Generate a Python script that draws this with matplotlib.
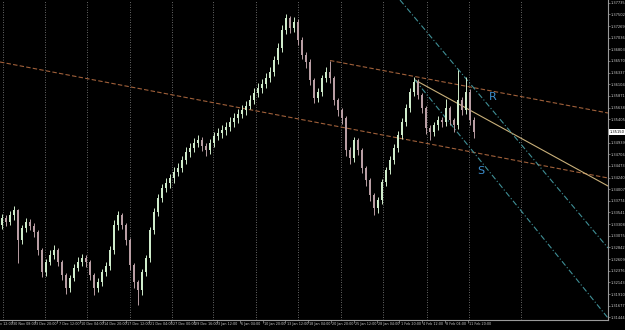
import numpy as np
import matplotlib
matplotlib.use("Agg")
import matplotlib.pyplot as plt
import matplotlib.transforms as transforms

# H4 candles, open = previous close
first_open = 1.3330
closes = [
    1.3343, 1.3335, 1.3349, 1.3359, 1.3299, 1.3323, 1.3335, 1.3327, 1.3315, 1.3279,
    1.3235, 1.3255, 1.3269, 1.3279, 1.3255, 1.3229, 1.3203, 1.3223, 1.3243, 1.3255,
    1.3263, 1.3255, 1.3229, 1.3203, 1.3215, 1.3235, 1.3247, 1.3279, 1.3329, 1.3349,
    1.3329, 1.3299, 1.3249, 1.3215, 1.3199, 1.3235, 1.3263, 1.3319, 1.3355, 1.3383,
    1.3403, 1.3413, 1.3423, 1.3435, 1.3443, 1.3459, 1.3475, 1.3483, 1.3493, 1.3499,
    1.3487, 1.3479, 1.3493, 1.3507, 1.3513, 1.3519, 1.3525, 1.3535, 1.3543, 1.3551,
    1.3559, 1.3567, 1.3579, 1.3593, 1.3603, 1.3611, 1.3623, 1.3635, 1.3659, 1.3683,
    1.3719, 1.3743, 1.3723, 1.3735, 1.3699, 1.3669, 1.3655, 1.3619, 1.3583, 1.3595,
    1.3623, 1.3635, 1.3623, 1.3579, 1.3559, 1.3543, 1.3479, 1.3463, 1.3499, 1.3479,
    1.3443, 1.3419, 1.3389, 1.3363, 1.3379, 1.3415, 1.3439, 1.3459, 1.3483, 1.3509,
    1.3535, 1.3563, 1.3595, 1.3615, 1.3589, 1.3563, 1.3523, 1.3515, 1.3529, 1.3539,
    1.3535, 1.3563, 1.3539, 1.3529, 1.3579, 1.3559, 1.3595, 1.3539, 1.3515,
]
highs = [
    1.3352, 1.3350, 1.3358, 1.3368, 1.3362, 1.3330, 1.3344, 1.3341, 1.3333, 1.3320,
    1.3284, 1.3262, 1.3280, 1.3290, 1.3284, 1.3260, 1.3234, 1.3230, 1.3252, 1.3266,
    1.3272, 1.3270, 1.3260, 1.3234, 1.3224, 1.3242, 1.3256, 1.3288, 1.3340, 1.3358,
    1.3354, 1.3334, 1.3304, 1.3254, 1.3220, 1.3242, 1.3270, 1.3326, 1.3364, 1.3392,
    1.3412, 1.3424, 1.3432, 1.3446, 1.3454, 1.3468, 1.3486, 1.3494, 1.3504, 1.3510,
    1.3506, 1.3494, 1.3502, 1.3516, 1.3524, 1.3530, 1.3536, 1.3546, 1.3554, 1.3562,
    1.3570, 1.3578, 1.3590, 1.3604, 1.3614, 1.3622, 1.3634, 1.3646, 1.3668, 1.3694,
    1.3730, 1.3751, 1.3748, 1.3745, 1.3740, 1.3704, 1.3676, 1.3660, 1.3624, 1.3604,
    1.3630, 1.3646, 1.3658, 1.3628, 1.3584, 1.3564, 1.3548, 1.3486, 1.3506, 1.3504,
    1.3484, 1.3448, 1.3424, 1.3394, 1.3386, 1.3422, 1.3446, 1.3468, 1.3492, 1.3518,
    1.3544, 1.3572, 1.3604, 1.3625, 1.3620, 1.3594, 1.3568, 1.3530, 1.3536, 1.3548,
    1.3546, 1.3580, 1.3568, 1.3544, 1.3639, 1.3586, 1.3625, 1.3600, 1.3546,
]
lows = [
    1.3322, 1.3328, 1.3330, 1.3340, 1.3253, 1.3292, 1.3316, 1.3320, 1.3306, 1.3270,
    1.3226, 1.3228, 1.3250, 1.3262, 1.3248, 1.3220, 1.3192, 1.3196, 1.3218, 1.3238,
    1.3248, 1.3246, 1.3220, 1.3190, 1.3195, 1.3208, 1.3228, 1.3240, 1.3272, 1.3320,
    1.3322, 1.3290, 1.3240, 1.3204, 1.3169, 1.3190, 1.3228, 1.3256, 1.3312, 1.3348,
    1.3376, 1.3396, 1.3404, 1.3414, 1.3428, 1.3436, 1.3452, 1.3466, 1.3476, 1.3486,
    1.3478, 1.3468, 1.3472, 1.3486, 1.3500, 1.3504, 1.3510, 1.3518, 1.3526, 1.3534,
    1.3544, 1.3550, 1.3560, 1.3572, 1.3586, 1.3594, 1.3604, 1.3616, 1.3628, 1.3652,
    1.3676, 1.3712, 1.3714, 1.3716, 1.3690, 1.3660, 1.3644, 1.3610, 1.3574, 1.3576,
    1.3588, 1.3616, 1.3614, 1.3570, 1.3548, 1.3532, 1.3468, 1.3452, 1.3456, 1.3470,
    1.3434, 1.3408, 1.3378, 1.3350, 1.3354, 1.3372, 1.3408, 1.3432, 1.3452, 1.3476,
    1.3502, 1.3528, 1.3556, 1.3588, 1.3580, 1.3554, 1.3512, 1.3500, 1.3508, 1.3520,
    1.3526, 1.3528, 1.3530, 1.3516, 1.3522, 1.3550, 1.3552, 1.3530, 1.3504,
]

time_labels = [
    "27 Nov 12:00", "30 Nov 08:00", "3 Dec 20:00", "7 Dec 12:00", "10 Dec 04:00",
    "14 Dec 20:00", "17 Dec 12:00", "21 Dec 04:00", "27 Dec 00:00", "29 Dec 16:00",
    "3 Jan 12:00", "6 Jan 04:00", "10 Jan 20:00", "13 Jan 12:00", "18 Jan 04:00",
    "20 Jan 20:00", "25 Jan 12:00", "28 Jan 04:00", "1 Feb 20:00", "4 Feb 12:00",
    "8 Feb 04:00", "11 Feb 20:00",
]
# bar index where each time label sits (5.7 bars apart)
time_label_bars = [-3.25 + 5.7 * k for k in range(len(time_labels))]

price_ticks = [round(1.37735 - 0.00233 * k, 5) for k in range(28)]

# trend lines: (bar, price) end points
s_line = [(-0.5, 1.3655), (151.5, 1.3423)]
r_line = [(82.0, 1.3658), (151.5, 1.3553)]
tan_line = [(103.25, 1.3619), (151.5, 1.3407)]
chan_a = [(99.5, 1.3779), (151.5, 1.3283)]
chan_b = [(103.25, 1.3619), (151.5, 1.3143)]

grid_bars = [0.2, 10.75, 21.25, 32.0, 42.5, 52.75, 63.5, 74.0, 84.75, 95.25, 106.25, 116.75, 129.75]

small_font = ["Liberation Sans Narrow", "DejaVu Sans"]

opens = [first_open] + closes[:-1]
n = len(closes)
x = np.arange(n)
o = np.array(opens)
c = np.array(closes)
h = np.array(highs)
l = np.array(lows)

fig = plt.figure(figsize=(6.25, 3.3), dpi=100, facecolor="black")
ax = fig.add_axes([0.0, 10 / 330, 608 / 625, 320 / 330])
ax.set_facecolor("black")
ax.set_xlim(-0.5, 151.5)
ax.set_ylim(1.3139, 1.3779)

for gx in grid_bars:
    ax.axvline(gx, color="#8a8a8a", lw=0.6, ls=(0, (1, 2)), zorder=1)

up = c >= o
up_col = "#cfeccb"
dn_col = "#b99ea4"
ax.vlines(x[up], l[up], h[up], color=up_col, lw=0.7, zorder=3)
ax.vlines(x[~up], l[~up], h[~up], color=dn_col, lw=0.7, zorder=3)
body_lo = np.minimum(o, c)
body_h = np.maximum(np.abs(c - o), 0.00008)
ax.bar(x[up], body_h[up], bottom=body_lo[up], width=0.6, color=up_col, zorder=4)
ax.bar(x[~up], body_h[~up], bottom=body_lo[~up], width=0.6, color=dn_col, zorder=4)

def draw_line(pts, **kw):
    (x0, y0), (x1, y1) = pts
    ax.plot([x0, x1], [y0, y1], **kw)

draw_line(s_line, color="#a0603a", lw=0.8, ls=(0, (4, 2)), zorder=2)
draw_line(r_line, color="#a0603a", lw=0.8, ls=(0, (4, 2)), zorder=2)
draw_line(tan_line, color="#c9b07a", lw=0.8, zorder=2)
draw_line(chan_a, color="#3f8f96", lw=0.8, ls=(0, (5, 2, 1, 2)), zorder=2)
draw_line(chan_b, color="#3f8f96", lw=0.8, ls=(0, (5, 2, 1, 2)), zorder=2)

ax.text(122.75, 1.3584, "R", color="#3d8fcf", fontsize=8, ha="center", va="center")
ax.text(119.75, 1.3437, "S", color="#3d8fcf", fontsize=8, ha="center", va="center")

# axes frame
for side in ["top", "left"]:
    ax.spines[side].set_visible(False)
for side in ["right", "bottom"]:
    ax.spines[side].set_color("#9a9a9a")
    ax.spines[side].set_linewidth(0.8)

ax.yaxis.tick_right()
ax.set_yticks(price_ticks)
ax.set_yticklabels([f"{p:.5f}" for p in price_ticks], family=small_font)
ax.tick_params(axis="y", colors="#9a9a9a", labelcolor="#c8c8c8", labelsize=2.6,
               length=1.2, width=0.5, pad=0.6)

ax.set_xticks([b for b in time_label_bars if b > -0.5])
ax.set_xticklabels([])
ax.tick_params(axis="x", colors="#9a9a9a", length=2, width=0.5)
trans = transforms.blended_transform_factory(ax.transData, ax.transAxes)
for b, lab in zip(time_label_bars, time_labels):
    ax.text(b + 0.3, -0.006, lab, transform=trans, ha="left", va="top",
            fontsize=2.4, color="#c8c8c8", family=small_font, clip_on=False)

# current price tag
ax.text(1.003, closes[-1], f"{closes[-1]:.5f}",
        transform=transforms.blended_transform_factory(ax.transAxes, ax.transData),
        ha="left", va="center", fontsize=2.6, color="black", family=small_font,
        bbox=dict(boxstyle="square,pad=0.15", fc="white", ec="none"), clip_on=False, zorder=10)

fig.savefig("out.png", dpi=100, facecolor="black")
